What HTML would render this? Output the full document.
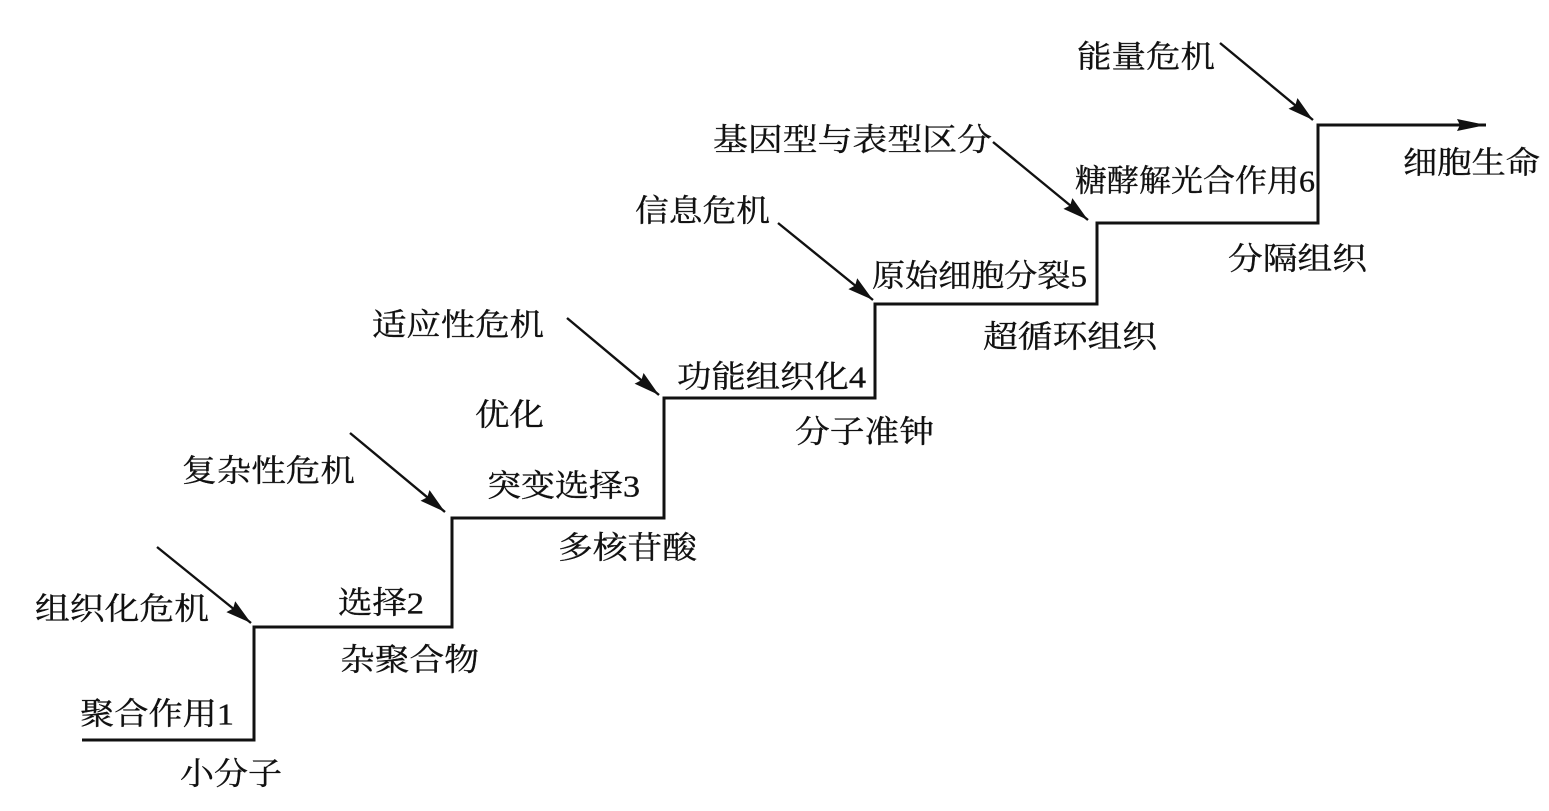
<!DOCTYPE html>
<html>
<head>
<meta charset="utf-8">
<style>
  html, body { margin:0; padding:0; background:#fff; }
  svg { display:block; }
  text { font-family: "Liberation Serif", "Noto Serif CJK SC", "Noto Serif CJK JP", "Noto Sans CJK SC", serif; font-size:31px; fill:#111; stroke:#111; stroke-width:0.35; dominant-baseline:central; }
</style>
</head>
<body>
<svg width="1549" height="811" viewBox="0 0 1549 811" xmlns="http://www.w3.org/2000/svg">
  <defs>
    <marker id="ah" markerUnits="userSpaceOnUse" markerWidth="28" markerHeight="16" refX="26" refY="7" orient="auto">
      <path d="M0,0 L26,7 L0,14 L3,7 z" fill="#111"/>
    </marker>
    <marker id="ah2" markerUnits="userSpaceOnUse" markerWidth="32" markerHeight="14" refX="29" refY="6" orient="auto">
      <path d="M0,0 L29,6 L0,12 L3,6 z" fill="#111"/>
    </marker>
  </defs>

  <!-- staircase -->
  <polyline points="82,740 254,740 254,627 452,627 452,518 664,518 664,398 875,398 875,304 1097,304 1097,223 1318,223 1318,125 1462,125"
            fill="none" stroke="#111" stroke-width="3" stroke-linejoin="miter"/>
  <line x1="1455" y1="125" x2="1486" y2="125" stroke="#111" stroke-width="3" marker-end="url(#ah2)"/>

  <!-- crisis arrows -->
  <g stroke="#111" stroke-width="2.4">
    <line x1="157" y1="547" x2="251" y2="623" marker-end="url(#ah)"/>
    <line x1="350" y1="433" x2="445" y2="512" marker-end="url(#ah)"/>
    <line x1="567" y1="318" x2="659" y2="395" marker-end="url(#ah)"/>
    <line x1="778" y1="223" x2="873" y2="300" marker-end="url(#ah)"/>
    <line x1="993" y1="142" x2="1088" y2="220" marker-end="url(#ah)"/>
    <line x1="1220" y1="43" x2="1313" y2="120" marker-end="url(#ah)"/>
  </g>

  <!-- labels -->
  <text x="35" y="609" textLength="174" lengthAdjust="spacingAndGlyphs">组织化危机</text>
  <text x="80" y="714" textLength="154" lengthAdjust="spacingAndGlyphs">聚合作用1</text>
  <text x="180" y="774" textLength="102" lengthAdjust="spacingAndGlyphs">小分子</text>
  <text x="338" y="603" textLength="86" lengthAdjust="spacingAndGlyphs">选择2</text>
  <text x="340" y="660" textLength="139" lengthAdjust="spacingAndGlyphs">杂聚合物</text>
  <text x="182" y="471" textLength="173" lengthAdjust="spacingAndGlyphs">复杂性危机</text>
  <text x="487" y="486" textLength="153" lengthAdjust="spacingAndGlyphs">突变选择3</text>
  <text x="558" y="548" textLength="139" lengthAdjust="spacingAndGlyphs">多核苷酸</text>
  <text x="475" y="415" textLength="69" lengthAdjust="spacingAndGlyphs">优化</text>
  <text x="372" y="325" textLength="172" lengthAdjust="spacingAndGlyphs">适应性危机</text>
  <text x="677" y="377" textLength="189" lengthAdjust="spacingAndGlyphs">功能组织化4</text>
  <text x="795" y="432" textLength="139" lengthAdjust="spacingAndGlyphs">分子准钟</text>
  <text x="635" y="211" textLength="135" lengthAdjust="spacingAndGlyphs">信息危机</text>
  <text x="872" y="276" textLength="215" lengthAdjust="spacingAndGlyphs">原始细胞分裂5</text>
  <text x="983" y="337" textLength="174" lengthAdjust="spacingAndGlyphs">超循环组织</text>
  <text x="713" y="140" textLength="279" lengthAdjust="spacingAndGlyphs">基因型与表型区分</text>
  <text x="1075" y="181" textLength="240" lengthAdjust="spacingAndGlyphs">糖酵解光合作用6</text>
  <text x="1228" y="259" textLength="139" lengthAdjust="spacingAndGlyphs">分隔组织</text>
  <text x="1077" y="57" textLength="138" lengthAdjust="spacingAndGlyphs">能量危机</text>
  <text x="1403" y="163" textLength="137" lengthAdjust="spacingAndGlyphs">细胞生命</text>
</svg>
</body>
</html>
